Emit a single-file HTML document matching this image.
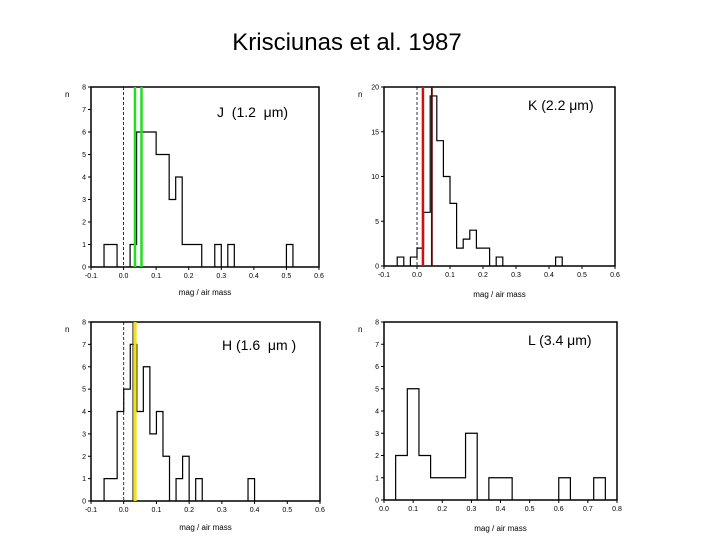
<!DOCTYPE html>
<html><head><meta charset="utf-8"><style>
body{margin:0;background:#fff;width:720px;height:540px;overflow:hidden}
svg{position:absolute;left:0;top:0}
text{font-family:"Liberation Sans",sans-serif}
</style></head><body>
<svg id="s" width="720" height="540" xmlns="http://www.w3.org/2000/svg">
<text x="347" y="50" font-size="24" text-anchor="middle">Krisciunas et al. 1987</text>
</svg>
<script>
const S=document.getElementById('s');let h='';
function panel(p){
 const {L,R,T,B,x0,x1,ymax,ystep,ylab,bins,title,tx,ty,vlines,dash,xlabY}=p;
 const X=v=>L+(v-x0)/(x1-x0)*(R-L), Y=v=>B-v/ymax*(B-T);
 h+=`<rect x="${L}" y="${T}" width="${R-L}" height="${B-T}" fill="none" stroke="#000" stroke-width="1.5"/>`;
 for(let v=0;v<=ymax+1e-9;v+=ystep){h+=`<line x1="${L-3}" x2="${L}" y1="${Y(v)}" y2="${Y(v)}" stroke="#000"/><text x="${L-5}" y="${Y(v)+2.5}" font-size="7" text-anchor="end">${ylab(v)}</text>`;}
 for(let i=0;;i++){const v=x0+i*0.1;if(v>x1+1e-9)break;h+=`<line x1="${X(v)}" x2="${X(v)}" y1="${B}" y2="${B+3}" stroke="#000"/><text x="${X(v)}" y="${B+11}" font-size="7" text-anchor="middle">${v.toFixed(1)}</text>`;}
 h+=`<text x="${L-26}" y="${T+10}" font-size="8">n</text>`;
 h+=`<text x="${(L+R)/2}" y="${xlabY}" font-size="8" text-anchor="middle">mag / air mass</text>`;
 if(dash)h+=`<line x1="${X(0)}" x2="${X(0)}" y1="${T}" y2="${B}" stroke="#000" stroke-dasharray="3,2" stroke-width="0.8"/>`;
 let d='',prevEnd=null;
 bins.forEach(([a,b,c],i)=>{
  if(prevEnd===null||Math.abs(prevEnd-a)>1e-9){ if(prevEnd!==null)d+=`V${B} `; d+=`M${X(a)},${B}`;}
  d+=`V${Y(c)}H${X(b)}`; prevEnd=b;
 });
 d+=`V${B}`;
 h+=`<path d="${d}" fill="none" stroke="#000" stroke-width="1.2"/>`;
 vlines.forEach(([v,col,w])=>{h+=`<line x1="${X(v)}" x2="${X(v)}" y1="${T}" y2="${B}" stroke="${col}" stroke-width="${w}"/>`;});
 h+=`<text x="${tx}" y="${ty}" font-size="14">${title}</text>`;
}
panel({L:91,R:319,T:87,B:267,x0:-0.1,x1:0.6,ymax:8,ystep:1,ylab:v=>v,xlabY:295,
 bins:[[-0.06,-0.02,1],[0.02,0.04,1],[0.04,0.10,6],[0.10,0.14,5],[0.14,0.16,3],[0.16,0.18,4],[0.18,0.24,1],[0.28,0.30,1],[0.32,0.34,1],[0.50,0.52,1]],
 title:"J&#160;&#160;(1.2&#160;&#160;μm)",tx:217,ty:117,dash:true,vlines:[[0.035,'#22dd22',2.5],[0.055,'#22dd22',2.5]]});
panel({L:384,R:615,T:87,B:266,x0:-0.1,x1:0.6,ymax:20,ystep:5,ylab:v=>v,xlabY:297,
 bins:[[-0.06,-0.04,1],[-0.02,0,1],[0,0.02,2],[0.02,0.04,6],[0.04,0.06,19],[0.06,0.08,14],[0.08,0.10,10],[0.10,0.12,7],[0.12,0.14,2],[0.14,0.16,3],[0.16,0.18,4],[0.18,0.22,2],[0.24,0.26,1],[0.42,0.44,1]],
 title:"K (2.2 μm)",tx:528,ty:110,dash:true,vlines:[[0.018,'#d01010',2.5],[0.045,'#600000',1.8]]});
panel({L:91,R:320,T:322,B:501,x0:-0.1,x1:0.6,ymax:8,ystep:1,ylab:v=>v,xlabY:530,
 bins:[[-0.06,-0.02,1],[-0.02,0,4],[0,0.02,5],[0.02,0.04,7],[0.04,0.06,4],[0.06,0.08,6],[0.08,0.10,3],[0.10,0.12,4],[0.12,0.14,2],[0.16,0.18,1],[0.18,0.20,2],[0.22,0.24,1],[0.38,0.40,1]],
 title:"H (1.6&#160;&#160;μm )",tx:222,ty:350,dash:true,vlines:[[0.028,'#333',1],[0.035,'#f0e020',3]]});
panel({L:384,R:617,T:322,B:500,x0:0,x1:0.8,ymax:8,ystep:1,ylab:v=>v,xlabY:531,
 bins:[[0.04,0.08,2],[0.08,0.12,5],[0.12,0.16,2],[0.16,0.28,1],[0.28,0.32,3],[0.36,0.44,1],[0.60,0.64,1],[0.72,0.76,1]],
 title:"L (3.4 μm)",tx:528,ty:345,dash:false,vlines:[]});
S.insertAdjacentHTML('beforeend',h);
</script>
</body></html>
